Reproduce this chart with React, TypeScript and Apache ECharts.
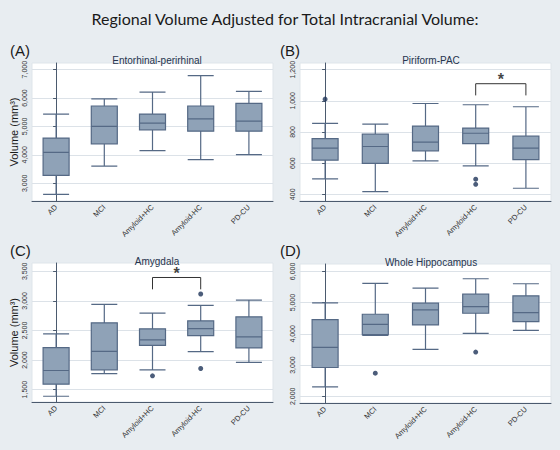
import React, { useEffect, useRef } from "react";
import * as echarts from "echarts";

const categories = ["AD", "MCI", "Amyloid+HC", "Amyloid-HC", "PD-CU"];

// [min, Q1, median, Q3, max]
const entorhinal = [
  [2610, 3280, 4090, 4590, 5435],
  [3600, 4390, 5000, 5720, 5975],
  [4150, 4880, 5120, 5435, 6210],
  [3835, 4835, 5270, 5720, 6790],
  [4010, 4835, 5190, 5810, 6235],
];
const entorhinalOutliers: number[][] = [];

const piriform = [
  [499, 619, 696, 758, 855],
  [417, 599, 707, 786, 850],
  [614, 679, 735, 838, 983],
  [582, 726, 792, 825, 975],
  [439, 623, 696, 773, 962],
];
const piriformOutliers = [
  [0, 1011],
  [3, 497],
  [3, 464],
];

const amygdala = [
  [1388, 1592, 1823, 2209, 2442],
  [1772, 1835, 2147, 2629, 2940],
  [1835, 2249, 2340, 2527, 2792],
  [2141, 2413, 2532, 2663, 2923],
  [1959, 2204, 2391, 2731, 3014],
];
const amygdalaOutliers = [
  [2, 1733],
  [3, 3116],
  [3, 1857],
];

const hippocampus = [
  [2300, 2922, 3566, 4456, 4992],
  [3952, 3973, 4306, 4627, 5614],
  [3501, 4284, 4767, 4981, 5464],
  [4016, 4660, 4874, 5271, 5764],
  [4113, 4391, 4681, 5217, 5603],
];
const hippocampusOutliers = [
  [1, 2740],
  [3, 3416],
];

const ticksA = [3000, 4000, 5000, 6000, 7000];
const ticksB = [400, 600, 800, 1000, 1200];
const ticksC = [1500, 2000, 2500, 3000, 3500];
const ticksD = [2000, 3000, 4000, 5000, 6000];

// significance brackets: [fromCat, toCat, legBottom, top, starValue]
const bracketB = [3, 4, 1035, 1110, 1160];
const bracketC = [2, 3, 3195, 3395, 3530];

const mainTitle = "Regional Volume Adjusted for Total Intracranial Volume:";
const panelTitles = ["Entorhinal-perirhinal", "Piriform-PAC", "Amygdala", "Whole Hippocampus"];
const panelLabels = ["(A)", "(B)", "(C)", "(D)"];
const yName = "Volume (mm³)";

const panels = [
  { data: entorhinal, outliers: entorhinalOutliers, ticks: ticksA, min: 2375, max: 7235, bracket: null as number[] | null, showName: true,
    grid: { left: 32, top: 63, width: 241, height: 138 }, titleX: 152, titleY: 50, labelX: 5, labelY: 38 },
  { data: piriform, outliers: piriformOutliers, ticks: ticksB, min: 357, max: 1243, bracket: bracketB, showName: false,
    grid: { left: 300, top: 63, width: 251, height: 138 }, titleX: 426, titleY: 50, labelX: 275, labelY: 38 },
  { data: amygdala, outliers: amygdalaOutliers, ticks: ticksC, min: 1291, max: 3640, bracket: bracketC, showName: true,
    grid: { left: 32, top: 263, width: 241, height: 139 }, titleX: 152, titleY: 251, labelX: 5, labelY: 238 },
  { data: hippocampus, outliers: hippocampusOutliers, ticks: ticksD, min: 1786, max: 6236, bracket: null as number[] | null, showName: false,
    grid: { left: 300, top: 264, width: 251, height: 139 }, titleX: 426, titleY: 252, labelX: 275, labelY: 238 },
];

const axisColor = "#4b5a6e";
const boxFill = "#8fa2b7";
const boxBorder = "#556985";
const dotColor = "#1f3559";

function buildOption() {
  const grids: any[] = [];
  const xAxes: any[] = [];
  const yAxes: any[] = [];
  const series: any[] = [];
  const titles: any[] = [
    {
      text: mainTitle,
      left: 280,
      top: 5,
      textAlign: "center",
      textStyle: { fontFamily: "Lato", fontSize: 16, fontWeight: "normal", color: "#1a1a1a" },
    },
  ];

  panels.forEach((p, i) => {
    grids.push({
      ...p.grid,
      show: true,
      backgroundColor: "#ffffff",
      borderColor: "#dfe5ea",
      borderWidth: 1,
    });
    titles.push({
      text: panelTitles[i],
      left: p.titleX,
      top: p.titleY,
      textAlign: "center",
      textStyle: { fontFamily: "Liberation Sans", fontSize: 10, fontWeight: "normal", color: "#26344e" },
    });
    titles.push({
      text: panelLabels[i],
      left: p.labelX,
      top: p.labelY,
      textStyle: { fontFamily: "Liberation Sans", fontSize: 15, fontWeight: "normal", color: "#1a1a1a" },
    });
    xAxes.push({
      type: "category",
      gridIndex: i,
      data: categories,
      boundaryGap: true,
      axisLine: { lineStyle: { color: axisColor, width: 1 } },
      axisTick: { alignWithLabel: true, length: 3, lineStyle: { color: axisColor } },
      axisLabel: { rotate: 45, fontSize: 7.5, color: "#333", fontFamily: "Liberation Sans", margin: 5 },
      splitLine: { show: false },
    });
    yAxes.push({
      type: "value",
      gridIndex: i,
      min: p.min,
      max: p.max,
      name: p.showName ? yName : "",
      nameLocation: "middle",
      nameGap: 13,
      nameTextStyle: { fontFamily: "Liberation Sans", fontSize: 11, color: "#1a1a1a" },
      axisLine: { show: true, lineStyle: { color: axisColor, width: 1 } },
      axisTick: { show: true, length: 3, customValues: p.ticks, lineStyle: { color: axisColor } },
      axisLabel: {
        customValues: p.ticks,
        rotate: 90,
        fontSize: 7,
        color: "#333",
        fontFamily: "Liberation Sans",
        margin: 4,
        formatter: (v: number) => v.toLocaleString("en-US"),
      },
      splitLine: { show: true, lineStyle: { color: "#dce2e8", width: 1 } },
    });
  });

  panels.forEach((p, i) => {
    // hidden value axis aligned with category bands, for annotations
    xAxes.push({ type: "value", gridIndex: i, min: -0.5, max: 4.5, show: false });
  });

  panels.forEach((p, i) => {
    series.push({
      type: "boxplot",
      xAxisIndex: i,
      yAxisIndex: i,
      data: p.data,
      boxWidth: [26, 26],
      itemStyle: { color: boxFill, borderColor: boxBorder, borderWidth: 1.2 },
      silent: true,
    });
    if (p.outliers.length) {
      series.push({
        type: "scatter",
        xAxisIndex: i,
        yAxisIndex: i,
        data: p.outliers,
        symbol: "circle",
        symbolSize: 5,
        itemStyle: { color: dotColor },
        silent: true,
      });
    }
    if (p.bracket) {
      const [a, b, lo, hi, star] = p.bracket;
      series.push({
        type: "line",
        xAxisIndex: 4 + i,
        yAxisIndex: i,
        data: [
          [a, lo],
          [a, hi],
          [b, hi],
          [b, lo],
        ],
        showSymbol: false,
        symbol: "none",
        lineStyle: { color: "#333", width: 1 },
        silent: true,
      });
      series.push({
        type: "scatter",
        xAxisIndex: 4 + i,
        yAxisIndex: i,
        data: [[(a + b) / 2, star]],
        symbolSize: 0,
        label: {
          show: true,
          formatter: "*",
          position: "inside",
          offset: [0, 4],
          fontSize: 16,
          lineHeight: 10,
          fontWeight: "bold",
          color: "#111",
          fontFamily: "Liberation Sans",
        },
        silent: true,
      });
    }
  });

  return {
    animation: false,
    backgroundColor: "#e8edf1",
    title: titles,
    grid: grids,
    xAxis: xAxes,
    yAxis: yAxes,
    series,
  };
}

export default function App() {
  const ref = useRef<HTMLDivElement>(null);
  useEffect(() => {
    if (!ref.current) return;
    const chart = echarts.init(ref.current, null, { renderer: "svg" });
    chart.setOption(buildOption());
    return () => chart.dispose();
  }, []);
  return (
    <div
      ref={ref}
      style={{ position: "absolute", left: 0, top: 0, width: 560, height: 450 }}
    />
  );
}
